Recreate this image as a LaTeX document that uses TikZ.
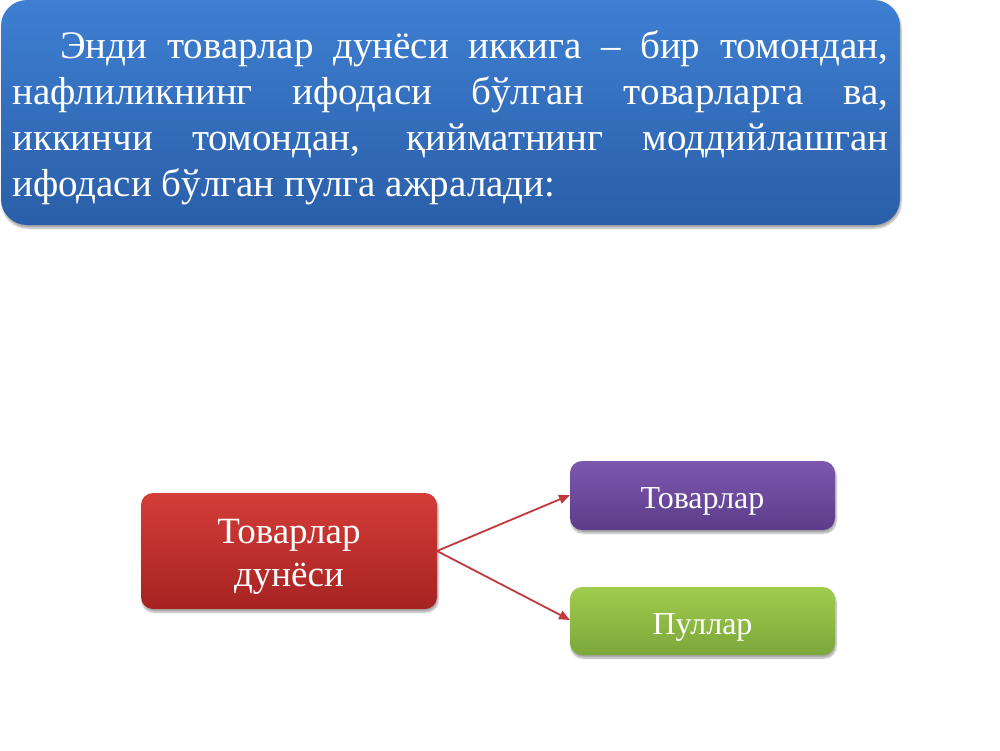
\documentclass[tikz,border=0pt]{standalone}
\usepackage{fontspec}
\setmainfont{Liberation Serif}
\usetikzlibrary{shadows.blur,arrows.meta}
\definecolor{bluetop}{HTML}{3E7FD2}
\definecolor{bluebot}{HTML}{2A5EA8}
\definecolor{redtop}{HTML}{D43D38}
\definecolor{redbot}{HTML}{A52322}
\definecolor{purtop}{HTML}{7D58AE}
\definecolor{purbot}{HTML}{5C3C8A}
\definecolor{grntop}{HTML}{A0CC4E}
\definecolor{grnbot}{HTML}{7BA73A}
\definecolor{arrowred}{HTML}{C0393B}
\tikzset{
  box/.style={rounded corners=12pt, blur shadow={shadow blur steps=6, shadow xshift=1pt, shadow yshift=-3pt, shadow opacity=35}},
  conn/.style={draw=arrowred, line width=1.8pt, -{Triangle[length=11pt,width=9pt]}},
  lbl/.style={text=white, align=center, inner sep=0pt}
}
\begin{document}
\begin{tikzpicture}[x=1pt,y=-1pt]
\useasboundingbox (0,0) rectangle (1000,750);
% top box
\path[box, rounded corners=26pt, top color=bluetop, bottom color=bluebot] (1,0) rectangle (900,225);
\node[anchor=north west, inner sep=0pt, text width=876pt, align=justify, text=white,
      font=\fontsize{39}{46}\selectfont] (intro) at (12,30)
  {\hspace*{48pt}Энди товарлар дунёси иккига – бир томондан,\linebreak
   нафлиликнинг ифодаси бўлган товарларга ва,\linebreak
   иккинчи томондан, қийматнинг моддийлашган\linebreak
   ифодаси бўлган пулга ажралади:};
% boxes
\path[box, top color=redtop, bottom color=redbot] (141,493) rectangle (437,609);
\node[lbl, font=\fontsize{37}{43}\selectfont] (world) at (289,557) {Товарлар\\дунёси};
\coordinate (worldE) at (437,551);
\path[box, top color=purtop, bottom color=purbot] (570,461) rectangle (835,530);
\node[lbl, font=\fontsize{32}{38}\selectfont] (goods) at (702.5,501) {Товарлар};
\coordinate (goodsW) at (570,495);
\path[box, top color=grntop, bottom color=grnbot] (570,587) rectangle (835,655);
\node[lbl, font=\fontsize{32}{38}\selectfont] (money) at (702.5,627) {Пуллар};
\coordinate (moneyW) at (570,620);
\draw[conn] (worldE) -- (goodsW);
\draw[conn] (worldE) -- (moneyW);
\end{tikzpicture}
\end{document}
